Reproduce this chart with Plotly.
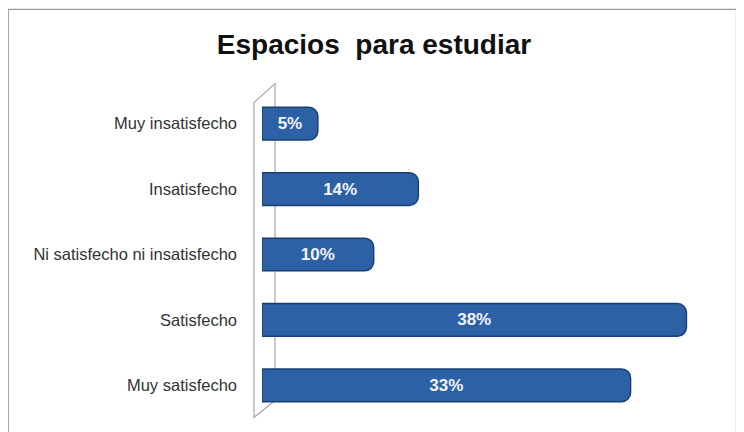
import plotly.graph_objects as go

categories = ["Muy insatisfecho", "Insatisfecho", "Ni satisfecho ni insatisfecho", "Satisfecho", "Muy satisfecho"]
values = [0.05, 0.14, 0.10, 0.38, 0.33]
labels = ["5%", "14%", "10%", "38%", "33%"]
title = "Espacios  para estudiar"

# page body has an 8px margin, so the figure is 736x424 and offset by 8px
W, H = 736, 424
L, R = 254, 683.6
T, B = 83.4, 409.6

def px(x):
    return (x - L) / (R - L)

def py(y):
    return (B - y) / (B - T)

fig = go.Figure(go.Bar(
    y=categories, x=values, orientation="h",
    text=labels, textposition="inside", insidetextanchor="middle",
    textfont=dict(family="Liberation Sans", size=17, color="#F2F4F8", weight="bold"),
    marker=dict(color="#2D61A6", line=dict(color="#1B3F70", width=1.5), cornerradius=9),
    width=0.5, hoverinfo="skip",
))

shapes = [
    # outer chart frame
    dict(type="rect", xref="paper", yref="paper", x0=px(0.5), x1=px(728), y0=py(440), y1=py(2),
         line=dict(color="#9A9A9A", width=1.2), fillcolor="rgba(0,0,0,0)", layer="below"),
    # 3D wall
    dict(type="path", xref="paper", yref="paper",
         path=f"M {px(246)} {py(409)} L {px(246)} {py(95)} L {px(267)} {py(76)} L {px(267)} {py(392)} Z",
         line=dict(color="#A8A8A8", width=1.2), fillcolor="rgba(255,255,255,0)", layer="below"),
]

fig.update_layout(
    width=W, height=H,
    margin=dict(l=L, r=W - R, t=T, b=H - B),
    paper_bgcolor="white", plot_bgcolor="rgba(0,0,0,0)",
    showlegend=False,
    title=dict(text=f"<b>{title}</b>", x=366 / W, xanchor="center", y=1 - 36 / H, yanchor="middle",
               font=dict(family="Liberation Sans", size=28, color="#111111")),
    xaxis=dict(range=[0, 0.385], visible=False, fixedrange=True),
    yaxis=dict(autorange="reversed", showgrid=False, zeroline=False, showline=False, ticks="",
               ticklabelstandoff=24,
               tickfont=dict(family="Liberation Sans", size=16.5, color="#333333")),
    shapes=shapes,
)

fig.write_html("out.html")
